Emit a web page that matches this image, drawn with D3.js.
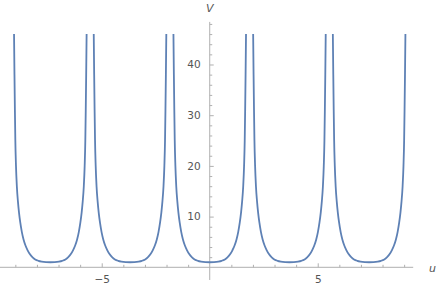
<!DOCTYPE html>
<html>
<head>
<meta charset="utf-8">
<script src="https://cdn.jsdelivr.net/npm/d3@7"></script>
<style>
  body { margin: 0; background: #fff; }
  svg { display: block; }
  .tick text { font-family: "DejaVu Sans", sans-serif; font-size: 10.5px; fill: #555; }
</style>
</head>
<body>
<script>
// well centres on the u axis
var wellCenters = [-7.38, -3.69, 0, 3.69, 7.38]
// shape of one well: offset from centre (u) and V
var wellOffset = [-1.68, -1.66, -1.64, -1.62, -1.59, -1.55, -1.5, -1.45, -1.39, -1.32, -1.24, -1.15, -1.05, -0.95, -0.82, -0.7, -0.55, -0.4, -0.2, 0,
                  0.2, 0.4, 0.55, 0.7, 0.82, 0.95, 1.05, 1.15, 1.24, 1.32, 1.39, 1.45, 1.5, 1.55, 1.59, 1.62, 1.64, 1.66, 1.68]
var wellV = [46, 38, 31, 25, 20, 16, 13, 10.8, 8.8, 7, 5.5, 4.3, 3.35, 2.6, 1.95, 1.55, 1.28, 1.13, 1.03, 1,
             1.03, 1.13, 1.28, 1.55, 1.95, 2.6, 3.35, 4.3, 5.5, 7, 8.8, 10.8, 13, 16, 20, 25, 31, 38, 46]

var xMajor = [-5, 5]
var xMinor = [-9, -8, -7, -6, -4, -3, -2, -1, 1, 2, 3, 4, 6, 7, 8, 9]
var yMajor = [10, 20, 30, 40]
var yMinor = [2, 4, 6, 8, 12, 14, 16, 18, 22, 24, 26, 28, 32, 34, 36, 38, 42, 44, 46, 48]

var width = 436, height = 288

var x = d3.scaleLinear().domain([-9.71, 9.42]).range([0, 413.2])
var y = d3.scaleLinear().domain([0, 48.4]).range([267.3, 21.9])

var svg = d3.select("body").append("svg")
    .attr("width", width)
    .attr("height", height)

var axisColor = "#b0b0b0"

// x axis
var gx = svg.append("g").attr("transform", "translate(0," + y(0) + ")")
gx.append("line").attr("x1", x.range()[0]).attr("x2", x.range()[1]).attr("stroke", axisColor)
gx.append("g").call(d3.axisBottom(x).tickValues(xMinor).tickSize(-2.5).tickFormat(""))
gx.append("g").call(d3.axisBottom(x).tickValues(xMajor).tickSize(-4).tickPadding(8))
gx.selectAll(".domain").remove()
gx.selectAll(".tick line").attr("stroke", axisColor)

// y axis
var gy = svg.append("g").attr("transform", "translate(" + x(0) + ",0)")
gy.append("line").attr("y1", y(-2.5)).attr("y2", y.range()[1]).attr("stroke", axisColor)
gy.append("g").call(d3.axisLeft(y).tickValues(yMinor).tickSize(-2.5).tickFormat(""))
gy.append("g").call(d3.axisLeft(y).tickValues(yMajor).tickSize(-4).tickPadding(9))
gy.selectAll(".domain").remove()
gy.selectAll(".tick line").attr("stroke", axisColor)

// axis labels
svg.append("text")
    .attr("x", x(0)).attr("y", 12)
    .attr("text-anchor", "middle")
    .style("font-family", "DejaVu Sans, sans-serif")
    .style("font-size", "11px").style("font-style", "italic")
    .attr("fill", "#555")
    .text("V")

svg.append("text")
    .attr("x", 429).attr("y", y(0) + 5)
    .style("font-family", "DejaVu Sans, sans-serif")
    .style("font-size", "11px").style("font-style", "italic")
    .attr("fill", "#555")
    .text("u")

// curve
var line = d3.line()
    .x(function (d) { return x(d[0]) })
    .y(function (d) { return y(d[1]) })
    .curve(d3.curveMonotoneX)

wellCenters.forEach(function (c) {
    var pts = wellOffset.map(function (o, i) { return [c + o, wellV[i]] })
    svg.append("path")
        .attr("d", line(pts))
        .attr("fill", "none")
        .attr("stroke", "#5e81b5")
        .attr("stroke-width", 1.8)
})
</script>
</body>
</html>
